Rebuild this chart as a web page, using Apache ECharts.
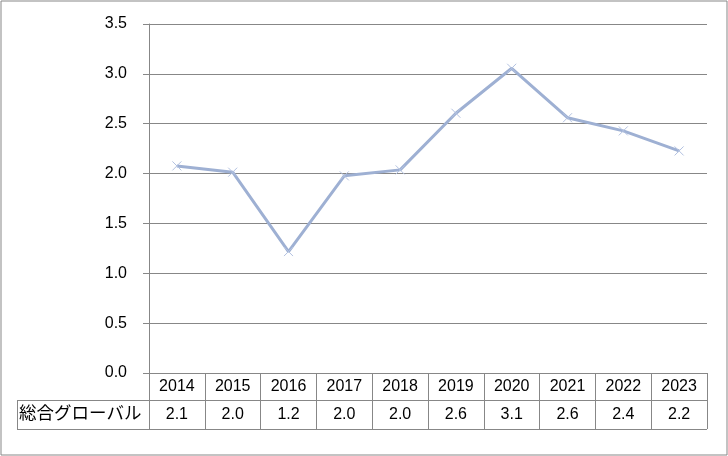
<!DOCTYPE html>
<html><head><meta charset="utf-8">
<script src="https://cdn.jsdelivr.net/npm/echarts@6/dist/echarts.min.js"></script>
<style>html,body{margin:0;padding:0;background:#fff}#c{width:728px;height:456px}</style>
</head><body><div id="c"></div>
<script>
const categories = ['2014','2015','2016','2017','2018','2019','2020','2021','2022','2023'];
const seriesName = '総合グローバル';
const values = [2.077, 2.014, 1.218, 1.977, 2.037, 2.605, 3.056, 2.56, 2.428, 2.227];
const yTicks = [0, 0.5, 1.0, 1.5, 2.0, 2.5, 3.0, 3.5];

const gray = '#878787';
const font = 'Liberation Sans, Arial, sans-serif';
const chart = echarts.init(document.getElementById('c'), null, {renderer: 'canvas'});
chart.setOption({
  animation: false,
  backgroundColor: '#fff',
  grid: {left: 149, right: 21, top: 24, bottom: 83, containLabel: false},
  xAxis: {
    type: 'category', data: categories, boundaryGap: true,
    axisLine: {show: true, lineStyle: {color: gray, width: 1}},
    axisTick: {show: true, interval: 0, alignWithLabel: false, length: 56, lineStyle: {color: gray}},
    axisLabel: {
      interval: 0, margin: 0,
      formatter: function (v, i) { return '{y|' + v + '}\n{v|' + values[i].toFixed(1) + '}'; },
      rich: {
        y: {fontSize: 16, fontFamily: font, color: '#000', lineHeight: 28, height: 28},
        v: {fontSize: 16, fontFamily: font, color: '#000', lineHeight: 28, height: 28}
      }
    },
    splitLine: {show: false}
  },
  yAxis: {
    type: 'value', min: yTicks[0], max: yTicks[yTicks.length - 1], interval: 0.5,
    axisLine: {show: true, lineStyle: {color: gray, width: 1}},
    axisTick: {show: true, length: 6, lineStyle: {color: gray}},
    axisLabel: {margin: 22, fontSize: 16, fontFamily: font, color: '#000',
      formatter: function (v) { return v.toFixed(1); }},
    splitLine: {show: true, lineStyle: {color: gray, width: 1}}
  },
  series: [{
    name: seriesName, type: 'line', data: values,
    lineStyle: {color: '#9eb0d3', width: 3},
    symbol: 'path://M0,0L10,10M10,0L0,10', symbolSize: 9, showSymbol: true,
    itemStyle: {color: '#b3c2e1', borderColor: '#b3c2e1', borderWidth: 1},
    z: 3
  }],
  graphic: [
    {type: 'rect', shape: {x: 1, y: 1, width: 726, height: 454}, style: {fill: 'none', stroke: gray, lineWidth: 1}, silent: true},
    {type: 'line', shape: {x1: 17, y1: 400.5, x2: 707, y2: 400.5}, style: {stroke: gray, lineWidth: 1}},
    {type: 'line', shape: {x1: 17, y1: 429.5, x2: 707, y2: 429.5}, style: {stroke: gray, lineWidth: 1}},
    {type: 'line', shape: {x1: 17.5, y1: 400, x2: 17.5, y2: 430}, style: {stroke: gray, lineWidth: 1}},
    {type: 'text', left: 19, top: 404, style: {text: seriesName, fontSize: 17.5, fontFamily: 'Noto Sans CJK JP', fill: '#000'}}
  ]
});
</script></body></html>
